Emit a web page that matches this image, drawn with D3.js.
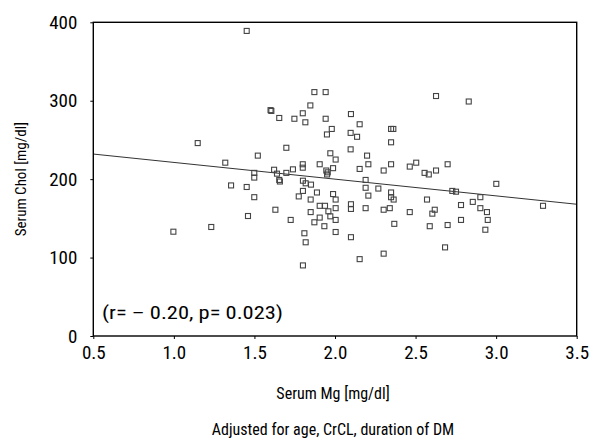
<!DOCTYPE html>
<html>
<head>
<meta charset="utf-8">
<script src="https://cdn.jsdelivr.net/npm/d3@7"></script>
<style>
  html, body { margin: 0; padding: 0; background: #fff; }
  svg text { font-family: "Liberation Sans Narrow", "Arial Narrow", "Roboto Condensed", "DejaVu Sans Condensed", sans-serif; fill: #000; font-weight: 400; }
</style>
</head>
<body>
<svg id="chart" width="591" height="440"></svg>
<script>
// ---- data ----
const serumMg = [0.997,1.148,1.232,1.319,1.355,1.452,1.452,1.460,1.499,1.499,1.499,1.521,1.600,1.605,1.622,1.640,1.654,1.658,1.630,1.654,
  1.698,1.698,1.725,1.739,1.748,1.775,1.800,1.816,1.800,1.800,1.801,1.818,1.851,1.801,1.849,1.849,1.810,1.818,1.801,1.847,
  1.872,1.942,1.942,1.872,1.888,1.905,1.905,1.905,1.934,1.938,1.946,1.955,1.951,1.950,1.959,1.971,1.971,1.980,1.988,1.988,
  2.004,2.004,2.004,2.004,2.004,2.097,2.097,2.099,2.099,2.099,2.099,2.137,2.153,2.153,2.153,2.190,2.190,2.190,2.199,2.207,
  2.207,2.269,2.302,2.302,2.302,2.340,2.348,2.362,2.348,2.348,2.348,2.348,2.364,2.368,2.464,2.464,2.504,2.556,2.582,2.571,
  2.588,2.604,2.619,2.627,2.627,2.683,2.699,2.699,2.728,2.751,2.782,2.782,2.830,2.855,2.902,2.902,2.933,2.943,2.948,3.001,3.291];
const serumChol = [133,246,139,221,192,190,389,153,208,202,177,230,288,287,212,207,199,197,161,278,
  240,208,148,212.5,277,178,284,272.5,219,214.6,198,194.7,193,185,174,158,131,119.5,90,294,
  311,311,277,145,183,219,166,151,140,166,211,208.7,206,257,159,233,152.6,264,214,181,
  225,174,163,148,132.6,238,259,283,168,162,126,254,270,213,98,199,189,163,230,219,
  179,188,211,161,105,163,264,264,247,219,183,177,174,143,216,158,221,208,206,174,
  140,156,161,306,211,113,219,141.5,185,184,167,148,299,171,177,163,135.5,158,148,194,166];
const fitX = [0.5, 3.5];
const fitY = [232, 168];
const xTicks = [0.5, 1.0, 1.5, 2.0, 2.5, 3.0, 3.5];
const yTicks = [0, 100, 200, 300, 400];
const xTitle = "Serum Mg [mg/dl]";
const yTitle = "Serum Chol [mg/dl]";
const note = "Adjusted for age, CrCL, duration of DM";
const stat = "(r= \u2013 0.20, p= 0.023)";

// ---- layout ----
const svg = d3.select("#chart");
const x = d3.scaleLinear().domain([0.5, 3.5]).range([93.3, 576.7]);
const y = d3.scaleLinear().domain([0, 400]).range([336, 22.3]);

// regression line
const line = d3.line().x(d => x(d[0])).y(d => y(d[1]));
svg.append("path")
  .datum(fitX.map((v, i) => [v, fitY[i]]))
  .attr("d", line)
  .attr("fill", "none")
  .attr("stroke", "#333")
  .attr("stroke-width", 1);

// points
svg.append("g").selectAll("rect")
  .data(serumMg.map((v, i) => [v, serumChol[i]]))
  .join("rect")
  .attr("x", d => x(d[0]) - 2.5)
  .attr("y", d => y(d[1]) - 2.5)
  .attr("width", 5)
  .attr("height", 5)
  .attr("fill", "none")
  .attr("stroke", "#444")
  .attr("stroke-width", 1.1);

// frame
svg.append("rect")
  .attr("x", x(0.5)).attr("y", y(400))
  .attr("width", x(3.5) - x(0.5)).attr("height", y(0) - y(400))
  .attr("fill", "none").attr("stroke", "#000").attr("stroke-width", 1.4);

// axes
const xAxis = svg.append("g")
  .attr("transform", `translate(0,${y(0)})`)
  .call(d3.axisBottom(x).tickValues(xTicks).tickFormat(d3.format(".1f")).tickSize(3).tickPadding(7));
const yAxis = svg.append("g")
  .attr("transform", `translate(${x(0.5)},0)`)
  .call(d3.axisLeft(y).tickValues(yTicks).tickSize(3).tickPadding(13));
[xAxis, yAxis].forEach(g => {
  g.select(".domain").remove();
  g.selectAll(".tick line").attr("stroke", "#000").attr("stroke-width", 1);
  g.selectAll("text").attr("font-size", 19).attr("fill", "#000")
    .style("font-family", '"Liberation Sans Narrow", "Arial Narrow", "Roboto Condensed", sans-serif')
    .style("font-weight", 400);
});

// titles
svg.append("text")
  .attr("x", 333).attr("y", 399)
  .attr("text-anchor", "middle").attr("font-size", 16)
  .text(xTitle);
svg.append("text")
  .attr("transform", `translate(26,${(y(0) + y(400)) / 2}) rotate(-90)`)
  .attr("text-anchor", "middle").attr("font-size", 15)
  .text(yTitle);
svg.append("text")
  .attr("x", 333).attr("y", 435)
  .attr("text-anchor", "middle").attr("font-size", 16)
  .text(note);
svg.append("text")
  .attr("x", 102).attr("y", 319)
  .attr("text-anchor", "start").attr("font-size", 19)
  .attr("textLength", 181).attr("lengthAdjust", "spacingAndGlyphs")
  .text(stat);
</script>
</body>
</html>
